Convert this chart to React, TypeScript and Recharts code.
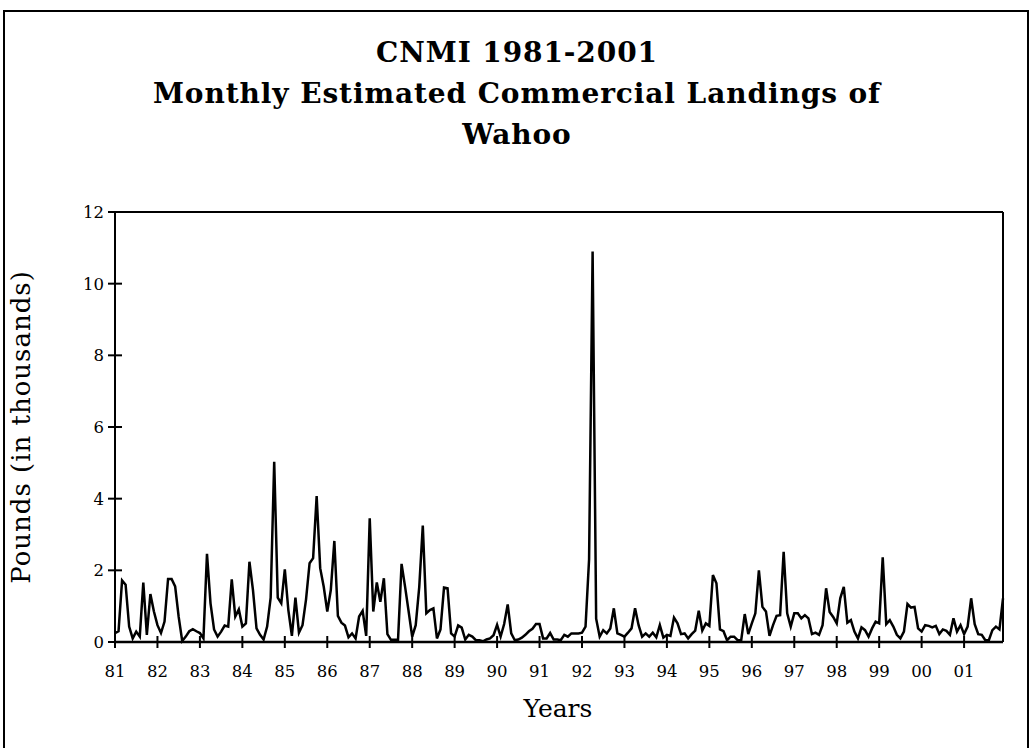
import React from 'react';
import { LineChart, Line, XAxis, YAxis } from 'recharts';

const yearLabels = [
  '81', '82', '83', '84', '85', '86', '87', '88', '89', '90', '91',
  '92', '93', '94', '95', '96', '97', '98', '99', '00', '01',
];

const poundTicks = [0, 2, 4, 6, 8, 10, 12];

// monthly landings, thousands of pounds, Jan 1981 .. Dec 2001 (one row per year)
const landings = [
  0.25, 0.3, 1.72, 1.6, 0.43, 0.1, 0.29, 0.15, 1.66, 0.2, 1.34, 0.85,
  0.47, 0.25, 0.57, 1.76, 1.76, 1.55, 0.7, 0.03, 0.15, 0.3, 0.36, 0.3,
  0.25, 0.1, 2.46, 1.08, 0.35, 0.15, 0.29, 0.46, 0.43, 1.75, 0.71, 0.91,
  0.43, 0.52, 2.24, 1.45, 0.38, 0.2, 0.07, 0.43, 1.24, 5.03, 1.24, 1.08,
  2.03, 0.89, 0.17, 1.24, 0.26, 0.47, 1.19, 2.2, 2.34, 4.07, 2.06, 1.54,
  0.85, 1.45, 2.82, 0.73, 0.54, 0.46, 0.13, 0.24, 0.1, 0.71, 0.87, 0.17,
  3.45, 0.85, 1.66, 1.12, 1.78, 0.22, 0.06, 0.06, 0.06, 2.18, 1.54, 0.85,
  0.15, 0.47, 1.54, 3.25, 0.8, 0.89, 0.94, 0.1, 0.35, 1.52, 1.5, 0.24,
  0.15, 0.46, 0.4, 0.07, 0.2, 0.15, 0.05, 0.05, 0.02, 0.07, 0.1, 0.19,
  0.48, 0.15, 0.5, 1.05, 0.24, 0.05, 0.07, 0.12, 0.2, 0.3, 0.37, 0.5,
  0.5, 0.1, 0.1, 0.25, 0.07, 0.07, 0.05, 0.2, 0.15, 0.24, 0.24, 0.24,
  0.26, 0.43, 2.3, 10.9, 0.65, 0.15, 0.33, 0.24, 0.38, 0.94, 0.24, 0.2,
  0.15, 0.26, 0.38, 0.94, 0.47, 0.15, 0.24, 0.15, 0.26, 0.13, 0.47, 0.12,
  0.2, 0.17, 0.68, 0.52, 0.22, 0.24, 0.1, 0.22, 0.32, 0.87, 0.32, 0.52,
  0.45, 1.87, 1.64, 0.35, 0.3, 0.05, 0.15, 0.15, 0.05, 0.05, 0.78, 0.22,
  0.52, 0.8, 2.0, 0.98, 0.85, 0.17, 0.47, 0.73, 0.75, 2.52, 0.8, 0.43,
  0.8, 0.8, 0.66, 0.75, 0.66, 0.22, 0.26, 0.2, 0.47, 1.5, 0.84, 0.7,
  0.52, 1.22, 1.54, 0.54, 0.61, 0.29, 0.1, 0.41, 0.33, 0.15, 0.38, 0.57,
  0.52, 2.36, 0.5, 0.61, 0.43, 0.2, 0.1, 0.29, 1.06, 0.96, 0.98, 0.38,
  0.29, 0.47, 0.45, 0.41, 0.45, 0.22, 0.35, 0.31, 0.2, 0.66, 0.29, 0.47,
  0.22, 0.43, 1.22, 0.5, 0.22, 0.2, 0.05, 0.05, 0.33, 0.43, 0.35, 1.22,
];

const data = landings.map((pounds, month) => ({ month, pounds }));
const yearTicks = yearLabels.map((_, i) => i * 12);

const SERIF = '"DejaVu Serif", serif';

function PoundTick(props: any) {
  const { x, y, payload } = props;
  return (
    <g>
      <line x1={x - 7} x2={x + 7} y1={y} y2={y} stroke="#000" strokeWidth={2} />
      <text x={x - 11} y={y} dy={6} textAnchor="end" fontFamily={SERIF} fontSize={16.5} fill="#000">
        {payload.value}
      </text>
    </g>
  );
}

function YearTick(props: any) {
  const { x, y, payload } = props;
  return (
    <g>
      <line x1={x} x2={x} y1={y - 6} y2={y + 6} stroke="#000" strokeWidth={2} />
      <text x={x} y={y} dy={35} textAnchor="middle" fontFamily={SERIF} fontSize={16.5} fill="#000">
        {yearLabels[payload.value / 12]}
      </text>
    </g>
  );
}

export default function App() {
  return (
    <div
      style={{
        position: 'absolute',
        left: 0,
        top: 0,
        width: 1031,
        height: 748,
        overflow: 'hidden',
        background: '#fff',
      }}
    >
      <div
        style={{
          position: 'absolute',
          left: 3,
          top: 10,
          width: 1022,
          height: 800,
          border: '2px solid #000',
        }}
      />
      <div
        style={{
          position: 'absolute',
          left: 0,
          top: 32,
          width: 1034,
          textAlign: 'center',
          fontFamily: SERIF,
          fontWeight: 'bold',
          fontSize: 28,
          letterSpacing: 0.9,
          lineHeight: '41px',
          color: '#000',
        }}
      >
        <div>CNMI 1981-2001</div>
        <div>Monthly Estimated Commercial Landings of</div>
        <div>Wahoo</div>
      </div>

      <LineChart
        width={1031}
        height={748}
        data={data}
        margin={{ top: 211, right: 27, bottom: 66, left: 55 }}
        style={{ position: 'absolute', left: 0, top: 0 }}
      >
        <XAxis
          dataKey="month"
          type="number"
          domain={[0, 251]}
          ticks={yearTicks}
          interval={0}
          height={40}
          tickSize={0}
          tickMargin={0}
          tickLine={false}
          tick={<YearTick />}
          axisLine={{ stroke: '#000', strokeWidth: 2.5 }}
        />
        <XAxis
          xAxisId="top"
          orientation="top"
          dataKey="month"
          type="number"
          domain={[0, 251]}
          height={1}
          tick={false}
          tickLine={false}
          axisLine={{ stroke: '#000', strokeWidth: 2 }}
        />
        <YAxis
          type="number"
          domain={[0, 12]}
          ticks={poundTicks}
          interval={0}
          width={60}
          tickSize={0}
          tickMargin={0}
          tickLine={false}
          tick={<PoundTick />}
          axisLine={{ stroke: '#000', strokeWidth: 2 }}
        />
        <YAxis
          yAxisId="right"
          orientation="right"
          type="number"
          domain={[0, 12]}
          width={1}
          tick={false}
          tickLine={false}
          axisLine={{ stroke: '#000', strokeWidth: 2 }}
        />
        <Line
          type="linear"
          dataKey="pounds"
          stroke="#000"
          strokeWidth={2.5}
          dot={false}
          isAnimationActive={false}
        />
      </LineChart>

      <div
        style={{
          position: 'absolute',
          left: 458,
          top: 694,
          width: 200,
          textAlign: 'center',
          fontFamily: SERIF,
          fontSize: 25,
          color: '#000',
        }}
      >
        Years
      </div>
      <div
        style={{
          position: 'absolute',
          left: 21 - 200,
          top: 427 - 16,
          width: 400,
          height: 32,
          lineHeight: '32px',
          textAlign: 'center',
          transform: 'rotate(-90deg)',
          fontFamily: SERIF,
          fontSize: 26,
          letterSpacing: 1,
          color: '#000',
        }}
      >
        Pounds (in thousands)
      </div>
    </div>
  );
}
